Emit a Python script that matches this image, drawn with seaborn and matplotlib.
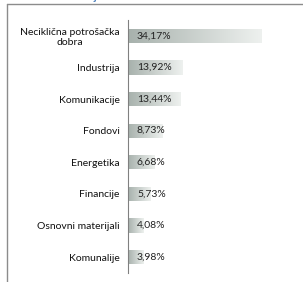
import numpy as np
import pandas as pd
import matplotlib
matplotlib.use("Agg")
import matplotlib.pyplot as plt
import seaborn as sns
from matplotlib.colors import LinearSegmentedColormap
from matplotlib.lines import Line2D

categories = ["Neciklična potrošačka\ndobra", "Industrija", "Komunikacije", "Fondovi",
              "Energetika", "Financije", "Osnovni materijali", "Komunalije"]
values = [34.17, 13.92, 13.44, 8.73, 6.68, 5.73, 4.08, 3.98]
value_labels = ["34,17%", "13,92%", "13,44%", "8,73%", "6,68%", "5,73%", "4,08%", "3,98%"]
title_text = "Sektorska alokacija"

sns.set_style("white")
plt.rcParams['font.family'] = ['Lato', 'DejaVu Sans']

df = pd.DataFrame({"sector": categories, "value": values})

fig = plt.figure(figsize=(3.03, 2.82), dpi=100)
ax = fig.add_axes([128/303, 9/282, 175/303, 253/282])

sns.barplot(data=df, x="value", y="sector", ax=ax, width=0.45,
            color="#c8cfcb", edgecolor="none", saturation=1)

cmap = LinearSegmentedColormap.from_list("g", ["#a7b1ac", "#eef1ef"])
grad = np.linspace(0, 1, 256).reshape(1, -1)
for patch in ax.patches:
    x0, y0 = patch.get_x(), patch.get_y()
    w, h = patch.get_width(), patch.get_height()
    im = ax.imshow(grad, cmap=cmap, extent=[x0, x0 + w, y0 + h, y0],
                   aspect="auto", zorder=patch.get_zorder() + 0.1)
    im.set_clip_path(patch)
ax.set_xlim(0, 44.9)
ax.set_ylim(7.5, -0.5)

for i, (v, lab) in enumerate(zip(values, value_labels)):
    ax.text(2.3, i, lab, va="center", ha="left", fontsize=7.5, color="#222222", zorder=5)

ax.set_xlabel("")
ax.set_ylabel("")
ax.set_xticks([])
ax.set_yticks(range(len(categories)))
ax.set_yticklabels(categories, fontsize=7.5, color="#111111")
for t in ax.get_yticklabels():
    t.set_ha("right")
    t.set_multialignment("center")
ax.tick_params(axis="y", which="major", length=0, pad=6)
ax.set_yticks(np.arange(-0.5, len(categories), 1), minor=True)
ax.tick_params(axis="y", which="minor", length=3, width=0.8, color="#808080", direction="out")
for s in ["top", "right", "bottom"]:
    ax.spines[s].set_visible(False)
ax.spines["left"].set_color("#808080")
ax.spines["left"].set_linewidth(0.8)

# outer frame (partially visible)
fig.add_artist(Line2D([7/303, 1.0], [1 - 4/282, 1 - 4/282], transform=fig.transFigure,
                      color="#8c8c8c", linewidth=1.0))
fig.add_artist(Line2D([7/303, 7/303], [0, 1 - 4/282], transform=fig.transFigure,
                      color="#8c8c8c", linewidth=1.0))
fig.text(7/303, 1 - 2/282, title_text, fontsize=8, fontweight="bold", color="#4f81bd",
         va="bottom", ha="left")

fig.savefig("out.png", dpi=100)
